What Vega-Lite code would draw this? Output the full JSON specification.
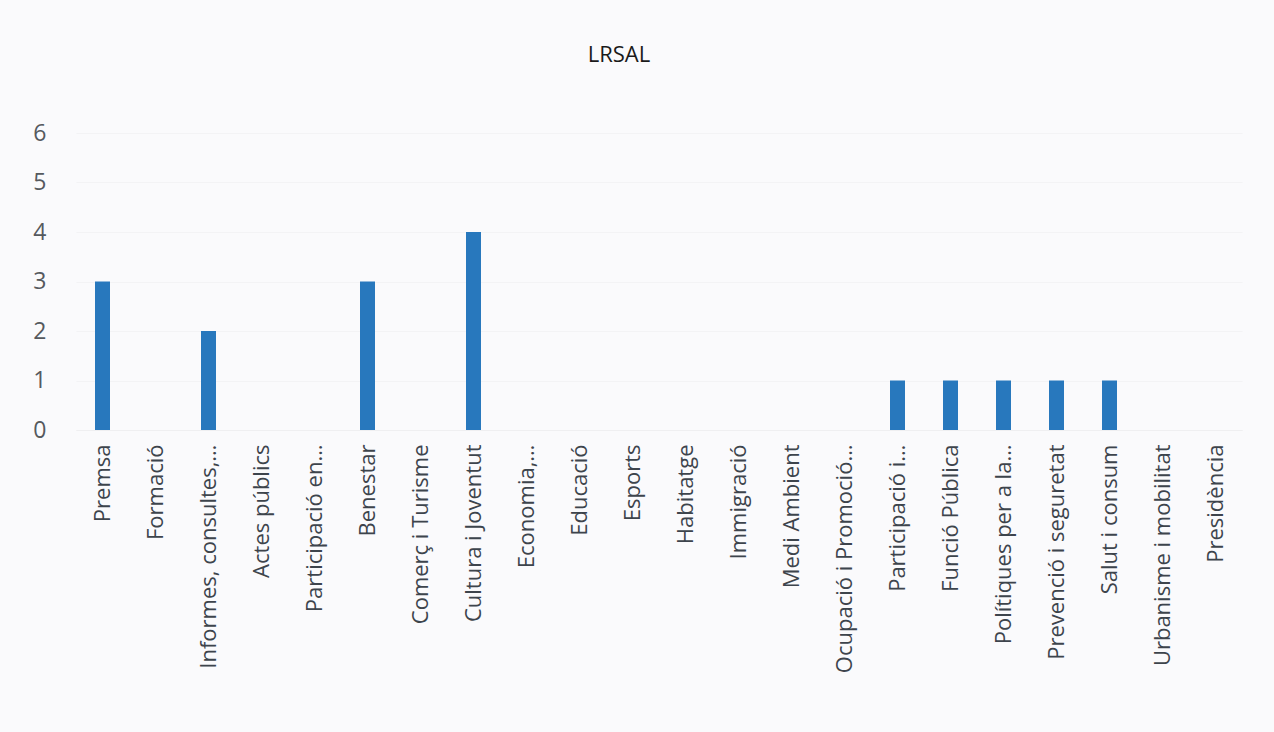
{
  "$schema": "https://vega.github.io/schema/vega-lite/v6.json",
  "autosize": "none",
  "width": 1166,
  "height": 297,
  "padding": {"left": 76, "top": 133, "right": 32, "bottom": 302},
  "background": "#fafafc",
  "title": {"text": "LRSAL", "fontSize": 22, "font": "Open Sans", "fontWeight": "normal", "color": "#1a1a1a", "anchor": "middle", "frame": "group", "dx": -40, "offset": 55},
  "data": {"values": [
    {"cat": "Premsa", "v": 3},
    {"cat": "Formació", "v": 0},
    {"cat": "Informes, consultes,…", "v": 2},
    {"cat": "Actes públics", "v": 0},
    {"cat": "Participació en…", "v": 0},
    {"cat": "Benestar", "v": 3},
    {"cat": "Comerç i Turisme", "v": 0},
    {"cat": "Cultura i Joventut", "v": 4},
    {"cat": "Economia,…", "v": 0},
    {"cat": "Educació", "v": 0},
    {"cat": "Esports", "v": 0},
    {"cat": "Habitatge", "v": 0},
    {"cat": "Immigració", "v": 0},
    {"cat": "Medi Ambient", "v": 0},
    {"cat": "Ocupació i Promoció…", "v": 0},
    {"cat": "Participació i…", "v": 1},
    {"cat": "Funció Pública", "v": 1},
    {"cat": "Polítiques per a la…", "v": 1},
    {"cat": "Prevenció i seguretat", "v": 1},
    {"cat": "Salut i consum", "v": 1},
    {"cat": "Urbanisme i mobilitat", "v": 0},
    {"cat": "Presidència", "v": 0}
  ]},
  "mark": {"type": "bar", "size": 15, "color": "#2878bd"},
  "encoding": {
    "x": {"field": "cat", "type": "nominal", "sort": null, "title": null,
      "axis": {"labelAngle": -90, "labelFontSize": 22, "labelFont": "Open Sans", "labelColor": "#3d444c", "ticks": false, "domain": true, "domainColor": "#efeff1", "labelPadding": 14, "labelLimit": 300}},
    "y": {"field": "v", "type": "quantitative", "title": null, "scale": {"domain": [0, 6]},
      "axis": {"values": [0, 1, 2, 3, 4, 5, 6], "labelFontSize": 23, "labelFont": "Open Sans", "labelColor": "#55595e", "ticks": false, "domain": false, "labelPadding": 30, "gridColor": "#f3f3f5"}}
  },
  "config": {"view": {"stroke": null}}
}
